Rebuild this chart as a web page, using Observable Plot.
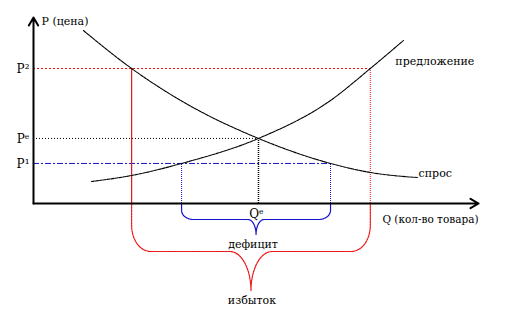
<!DOCTYPE html>
<html><head><meta charset="utf-8">
<script src="https://cdn.jsdelivr.net/npm/d3@7"></script>
<script src="https://cdn.jsdelivr.net/npm/@observablehq/plot@0.6"></script>
<style>body{margin:0;background:#fff} svg text{font-family:"DejaVu Serif",serif}</style>
</head><body><div id="chart"></div>
<script>
// Demand curve (quantity, price)
const demandQ = [1.13, 2.22, 3.33, 5.09, 6.72, 7.62, 8.69];
const demandP = [9.20, 7.18, 5.48, 3.46, 2.13, 1.65, 1.38];
// Supply curve
const supplyQ = [1.31, 2.22, 3.35, 5.09, 6.72, 7.62, 8.37];
const supplyP = [1.17, 1.49, 2.13, 3.46, 5.48, 7.18, 8.67];
// Price levels and labels (high, equilibrium, low)
const priceLevels = [7.18, 3.46, 2.13];
const priceLabels = ["P²", "Pᵉ", "P¹"];
// Quantities
const qDemandHigh = 2.22, qSupplyHigh = 7.62; // at high price -> surplus
const qSupplyLow = 3.35, qDemandLow = 6.72;   // at low price -> deficit
const qEq = 5.09;
const axisLabels = ["P (цена)", "Q (кол-во товара)"];
const curveLabels = ["предложение", "спрос"];
const braceLabels = ["дефицит", "избыток"];
const qEqLabel = "Qᵉ";

const demand = demandQ.map((q, i) => ({q, p: demandP[i]}));
const supply = supplyQ.map((q, i) => ({q, p: supplyP[i]}));
const [pHigh, pEq, pLow] = priceLevels;

const kx = 44.2, ky = 18.8; // px per unit
function brace(xL, xR, top, vEnd, bar, tip, rx, w) {
  const rxu = rx / kx, ryu = (bar - vEnd) / ky, wu = w / kx, hu = (tip - bar) / ky;
  const xm = (xL + xR) / 2;
  const half = [];
  half.push({q: xL, p: top});
  const cx = xL + rxu, cy = -vEnd / ky;
  for (let i = 0; i <= 12; i++) { const t = i / 12 * Math.PI / 2; half.push({q: cx - rxu * Math.cos(t), p: cy - ryu * Math.sin(t)}); }
  const mx = xm - wu, my = -tip / ky;
  for (let i = 0; i <= 12; i++) { const t = i / 12 * Math.PI / 2; half.push({q: mx + wu * Math.sin(t), p: my + hu * Math.cos(t)}); }
  const right = half.slice().reverse().map(d => ({q: xm + (xm - d.q), p: d.p}));
  return half.concat(right);
}
const blueBrace = brace(qSupplyLow, qDemandLow, 0, 7, 16, 31, 12, 8);
const redBrace = brace(qDemandHigh, qSupplyHigh, 0, 22, 48, 87, 19, 21);

const red = "#ee1111", blue = "#1515d0";
const font = "DejaVu Serif, serif";
const T = {fontFamily: font, fill: "#000"};

const chart = Plot.plot({
  width: 515, height: 331, margin: 0,
  x: {domain: [0, 10], range: [33, 475], axis: null},
  y: {domain: [0, 10], range: [203, 15], axis: null},
  style: {background: "white", fontFamily: font},
  marks: [
    // horizontal guides
    Plot.ruleY([{p: pHigh, q: qSupplyHigh}], {y: "p", x1: () => 0, x2: "q", stroke: red, strokeDasharray: "2,2"}),
    Plot.ruleY([{p: pEq, q: qEq}], {y: "p", x1: () => 0, x2: "q", stroke: "#000", strokeDasharray: "1,2"}),
    Plot.ruleY([{p: pLow, q: qDemandLow}], {y: "p", x1: () => 0, x2: "q", stroke: blue, strokeDasharray: "6,2,2,2"}),
    // vertical guides
    Plot.ruleX([qDemandHigh], {y1: () => 0, y2: () => pHigh, stroke: red, strokeWidth: 1.2}),
    Plot.ruleX([qSupplyHigh], {y1: () => 0, y2: () => pHigh, stroke: red, strokeDasharray: "1,1"}),
    Plot.ruleX([qSupplyLow, qDemandLow], {y1: () => 0, y2: () => pLow, stroke: blue, strokeDasharray: "1,1"}),
    Plot.ruleX([qEq], {y1: () => 0, y2: () => pEq, stroke: "#000", strokeDasharray: "1,1", strokeWidth: 1.5}),
    // braces
    Plot.line(redBrace, {x: "q", y: "p", stroke: red, strokeDasharray: "2,1", strokeWidth: 1.2}),
    Plot.line(blueBrace, {x: "q", y: "p", stroke: blue, strokeWidth: 1.2}),
    // curves
    Plot.line(demand, {x: "q", y: "p", curve: "monotone-x", stroke: "#000", strokeDasharray: "3,1", strokeWidth: 1.1}),
    Plot.line(supply, {x: "q", y: "p", curve: "monotone-x", stroke: "#000", strokeDasharray: "3,1", strokeWidth: 1.1}),
    // axes
    Plot.arrow([{x1: 0, y1: 0, x2: 10.07, y2: 0}], {x1: "x1", y1: "y1", x2: "x2", y2: "y2", stroke: "#000", strokeWidth: 2, headLength: 7}),
    Plot.arrow([{x1: 0, y1: 0, x2: 0, y2: 9.9}], {x1: "x1", y1: "y1", x2: "x2", y2: "y2", stroke: "#000", strokeWidth: 2, headLength: 7}),
    // tick labels
    Plot.text(priceLevels.map((p, i) => ({p, label: priceLabels[i]})), {x: () => 0, y: "p", text: "label", textAnchor: "end", dx: -4, dy: 1, fontSize: 12, ...T}),
    // axis labels
    Plot.text([{q: 0, p: 10, label: axisLabels[0]}], {x: "q", y: "p", text: "label", textAnchor: "start", dx: 8, dy: 6, fontSize: 11, ...T}),
    Plot.text([{q: 10, p: 0, label: axisLabels[1]}], {x: "q", y: "p", text: "label", textAnchor: "end", dx: 3, dy: 16, fontSize: 10.5, ...T}),
    Plot.text([{q: qEq, p: 0, label: qEqLabel}], {x: "q", y: "p", text: "label", dx: -2, dy: 11, fontSize: 12, ...T}),
    // curve labels
    Plot.text([{q: qSupplyHigh, p: pHigh, label: curveLabels[0]}], {x: "q", y: "p", text: "label", textAnchor: "start", dx: 25, dy: -7, fontSize: 11, ...T}),
    Plot.text([{q: demandQ[demandQ.length - 1], p: demandP[demandP.length - 1], label: curveLabels[1]}], {x: "q", y: "p", text: "label", textAnchor: "start", dx: 1, dy: -4, fontSize: 11, ...T}),
    // brace labels
    Plot.text([{q: (qSupplyLow + qDemandLow) / 2, p: 0, label: braceLabels[0]}], {x: "q", y: "p", text: "label", dx: -3, dy: 41, fontSize: 11, ...T}),
    Plot.text([{q: (qDemandHigh + qSupplyHigh) / 2, p: 0, label: braceLabels[1]}], {x: "q", y: "p", text: "label", dx: 1, dy: 97, fontSize: 11, ...T})
  ]
});
document.getElementById("chart").appendChild(chart);
</script>
</body></html>
